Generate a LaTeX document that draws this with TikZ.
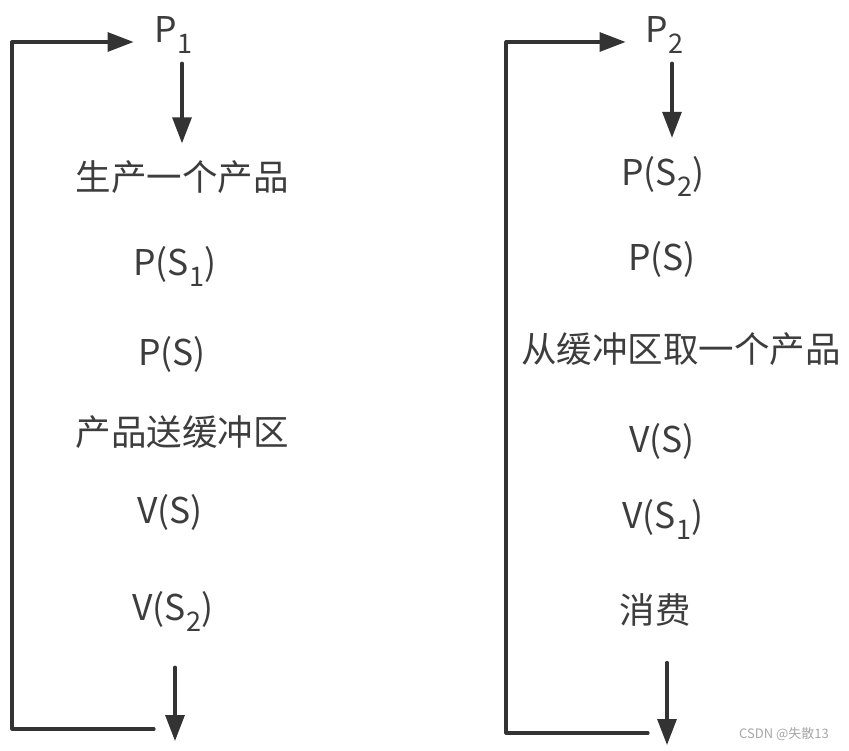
\documentclass[tikz,border=0pt]{standalone}
\usepackage{fontspec}
\setmainfont{Noto Sans CJK SC}
\usetikzlibrary{arrows.meta}

% lowered subscript as in the drawing
\newcommand{\lowsub}[1]{\kern0.5pt\raisebox{-11pt}{\fontsize{27}{27}\selectfont #1}\kern0.5pt}

\begin{document}
\begin{tikzpicture}[x=1pt, y=-1pt, line cap=round, line join=round,
  txt/.style={text=black!76, font=\fontsize{35.5}{35.5}\selectfont, inner sep=0pt},
  ltxt/.style={txt, anchor=base},
  flow/.style={draw=black!80, line width=3.2pt, -{Triangle[length=26pt,width=19pt]}}]

\useasboundingbox (0,0) rectangle (849,750);

% -----------------------
% Producer
% -----------------------
\node[ltxt] (p1)   at (174,42)  {P\lowsub{1}};
\node[txt]  (make) at (182,177) {生产一个产品};
\node[ltxt] (ps1)  at (175,275) {P(S\lowsub{1})};
\node[ltxt] (psL)  at (172,365) {P(S)};
\node[txt]  (send) at (182,432) {产品送缓冲区};
\node[ltxt] (vsL)  at (170,523) {V(S)};
\node[ltxt] (vs2)  at (173,620) {V(S\lowsub{2})};

\coordinate (end1)    at (175,741);
\coordinate (back1)   at (154,729);
\coordinate (corner1) at (12,729);

\draw[flow, shorten <=10pt, shorten >=17pt] (make.north |- p1.south) -- (make.north);
\draw[flow, shorten <=36pt] (vs2.south -| end1) -- (end1);
\draw[flow, shorten >=21pt] (back1) -- (corner1) |- (p1.base west);

% -----------------------
% Consumer
% -----------------------
\node[ltxt] (p2)   at (665,42)  {P\lowsub{2}};
\node[ltxt] (ps2)  at (663,185) {P(S\lowsub{2})};
\node[ltxt] (psR)  at (662,270) {P(S)};
\node[txt]  (take) at (681,349) {从缓冲区取一个产品};
\node[ltxt] (vsR)  at (662,452) {V(S)};
\node[ltxt] (vs1)  at (663,528) {V(S\lowsub{1})};
\node[txt]  (use)  at (655,610) {消费};

\coordinate (end2)    at (667,745);
\coordinate (back2)   at (648,733);
\coordinate (corner2) at (506,733);

\draw[flow, shorten <=10pt, shorten >=18pt] ([xshift=7pt]p2.south) -- ([xshift=7pt]p2.south |- ps2.north);
\draw[flow, shorten <=36pt] (use.south -| end2) -- (end2);
\draw[flow, shorten >=20pt] (back2) -- (corner2) |- (p2.base west);

% watermark
\node[text=black!35, font=\fontsize{13}{13}\selectfont, inner sep=0pt] (mark) at (784,734) {CSDN @失散13};

\end{tikzpicture}
\end{document}
